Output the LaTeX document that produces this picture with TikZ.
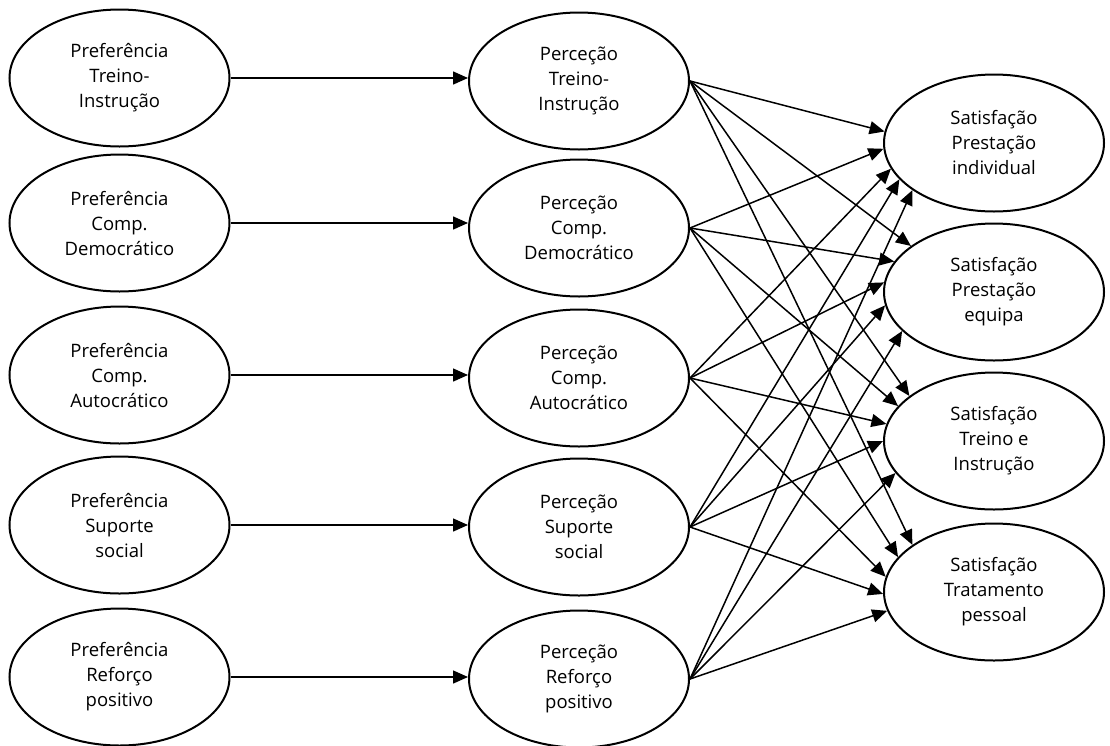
\documentclass[tikz,border=0pt]{standalone}
\usepackage{fontspec}
\setmainfont{Open Sans}
\usetikzlibrary{shapes.geometric,arrows.meta}
\begin{document}
\begin{tikzpicture}[x=1pt,y=-1pt,
  ell/.style={ellipse,draw,line width=2pt,minimum width=220pt,minimum height=137pt,
    inner sep=0pt,align=center,font=\fontsize{18.5}{25}\selectfont},
  arr/.style={line width=1.5pt,-{Triangle[length=15pt,width=13pt]}}]
\useasboundingbox (0,0) rectangle (1110,745);
% left column
\node[ell] (L1) at (119.5,78)  {Preferência\\Treino-\\Instrução};
\node[ell] (L2) at (119.5,223) {Preferência\\Comp.\\Democrático};
\node[ell] (L3) at (119.5,375) {Preferência\\Comp.\\Autocrático};
\node[ell] (L4) at (119.5,525) {Preferência\\Suporte\\social};
\node[ell] (L5) at (119.5,677) {Preferência\\Reforço\\positivo};
% middle column
\node[ell] (M1) at (579,81)  {Perceção\\Treino-\\Instrução};
\node[ell] (M2) at (579,228) {Perceção\\Comp.\\Democrático};
\node[ell] (M3) at (579,378) {Perceção\\Comp.\\Autocrático};
\node[ell] (M4) at (579,527) {Perceção\\Suporte\\social};
\node[ell] (M5) at (579,679) {Perceção\\Reforço\\positivo};
% right column
\node[ell] (R1) at (994,143) {Satisfação\\Prestação\\individual};
\node[ell] (R2) at (994,292) {Satisfação\\Prestação\\equipa};
\node[ell] (R3) at (994,441) {Satisfação\\Treino e\\Instrução};
\node[ell] (R4) at (994,592) {Satisfação\\Tratamento\\pessoal};
% horizontal arrows
\foreach \i in {1,...,5}
  \draw[arr] (L\i.east) -- (L\i.east -| M\i.west);
% middle to right
\draw[arr] (M1.east) -- (R1.174);
\draw[arr] (M1.east) -- (R2.151);
\draw[arr] (M1.east) -- (R3.152);
\draw[arr] (M1.east) -- (R4.150);
\draw[arr] (M2.east) -- (R1.183);
\draw[arr] (M2.east) -- (R2.163);
\draw[arr] (M2.east) -- (R3.160);
\draw[arr] (M2.east) -- (R4.160);
\draw[arr] (M3.east) -- (R1.194);
\draw[arr] (M3.east) -- (R2.175);
\draw[arr] (M3.east) -- (R3.171);
\draw[arr] (M3.east) -- (R4.172);
\draw[arr] (M4.east) -- (R1.201);
\draw[arr] (M4.east) -- (R2.187);
\draw[arr] (M4.east) -- (R3.180);
\draw[arr] (M4.east) -- (R4.181);
\draw[arr] (M5.east) -- (R1.210);
\draw[arr] (M5.east) -- (R2.203);
\draw[arr] (M5.east) -- (R3.198);
\draw[arr] (M5.east) -- (R4.190);
\end{tikzpicture}
\end{document}
